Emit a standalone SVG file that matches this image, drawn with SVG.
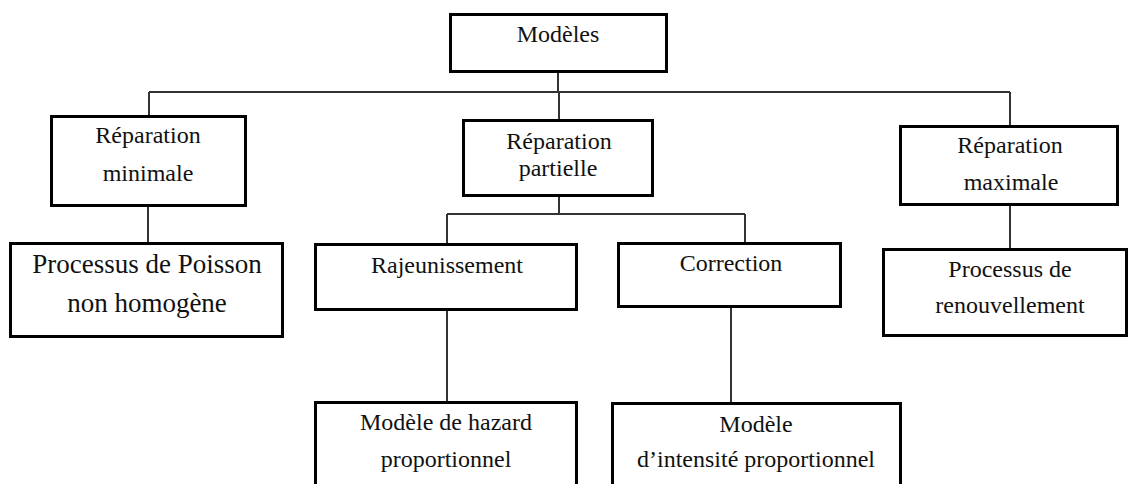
<svg xmlns="http://www.w3.org/2000/svg" width="1129" height="484" viewBox="0 0 1129 484">
  <style>
    .box { fill: #ffffff; stroke: #000000; stroke-width: 3; }
    .link { fill: none; stroke: #333333; stroke-width: 2; }
    text { font-family: "Liberation Serif", "DejaVu Serif", "Times New Roman", Times, serif; font-size: 24px; fill: #111111; text-anchor: middle; }
    .big { font-size: 27px; }
  </style>
  <rect width="1129" height="484" fill="#ffffff"/>

  <!-- connectors -->
  <g id="connectors">
    <path class="link" d="M558,73 V92"/>
    <path class="link" d="M149,92 H1010"/>
    <path class="link" d="M149,92 V115"/>
    <path class="link" d="M559,92 V119"/>
    <path class="link" d="M1010,92 V125"/>
    <path class="link" d="M148,207 V242"/>
    <path class="link" d="M559,197 V214"/>
    <path class="link" d="M447,214 H745"/>
    <path class="link" d="M447,214 V243"/>
    <path class="link" d="M745,214 V242"/>
    <path class="link" d="M447,311 V401"/>
    <path class="link" d="M731,308 V402"/>
    <path class="link" d="M1010,206 V248"/>
  </g>

  <!-- root -->
  <g id="modeles">
    <rect class="box" x="450.5" y="14.5" width="216" height="57"/>
    <text x="558" y="42">Modèles</text>
  </g>

  <!-- level 1 -->
  <g id="reparation-minimale">
    <rect class="box" x="51.5" y="116.5" width="194" height="89"/>
    <text x="148" y="143">Réparation</text>
    <text x="148" y="181">minimale</text>
  </g>
  <g id="reparation-partielle">
    <rect class="box" x="463.5" y="120.5" width="189" height="75"/>
    <text x="559" y="149">Réparation</text>
    <text x="558" y="176">partielle</text>
  </g>
  <g id="reparation-maximale">
    <rect class="box" x="900.5" y="126.5" width="217" height="78"/>
    <text x="1010" y="153">Réparation</text>
    <text x="1011" y="190">maximale</text>
  </g>

  <!-- level 2 -->
  <g id="processus-poisson">
    <rect class="box" x="10.5" y="243.5" width="272" height="93"/>
    <text class="big" x="147" y="273">Processus de Poisson</text>
    <text class="big" x="147" y="312">non homogène</text>
  </g>
  <g id="rajeunissement">
    <rect class="box" x="315.5" y="244.5" width="261" height="65"/>
    <text x="447" y="273">Rajeunissement</text>
  </g>
  <g id="correction">
    <rect class="box" x="618.5" y="243.5" width="222" height="63"/>
    <text x="731" y="271">Correction</text>
  </g>
  <g id="processus-renouvellement">
    <rect class="box" x="883.5" y="249.5" width="243" height="86"/>
    <text x="1010" y="277">Processus de</text>
    <text x="1010" y="313">renouvellement</text>
  </g>

  <!-- level 3 -->
  <g id="modele-hazard">
    <rect class="box" x="315.5" y="402.5" width="261" height="100"/>
    <text x="446" y="430">Modèle de hazard</text>
    <text x="446" y="467">proportionnel</text>
  </g>
  <g id="modele-intensite">
    <rect class="box" x="612.5" y="403.5" width="288" height="100"/>
    <text x="756" y="432">Modèle</text>
    <text x="756" y="467">d’intensité proportionnel</text>
  </g>
</svg>
